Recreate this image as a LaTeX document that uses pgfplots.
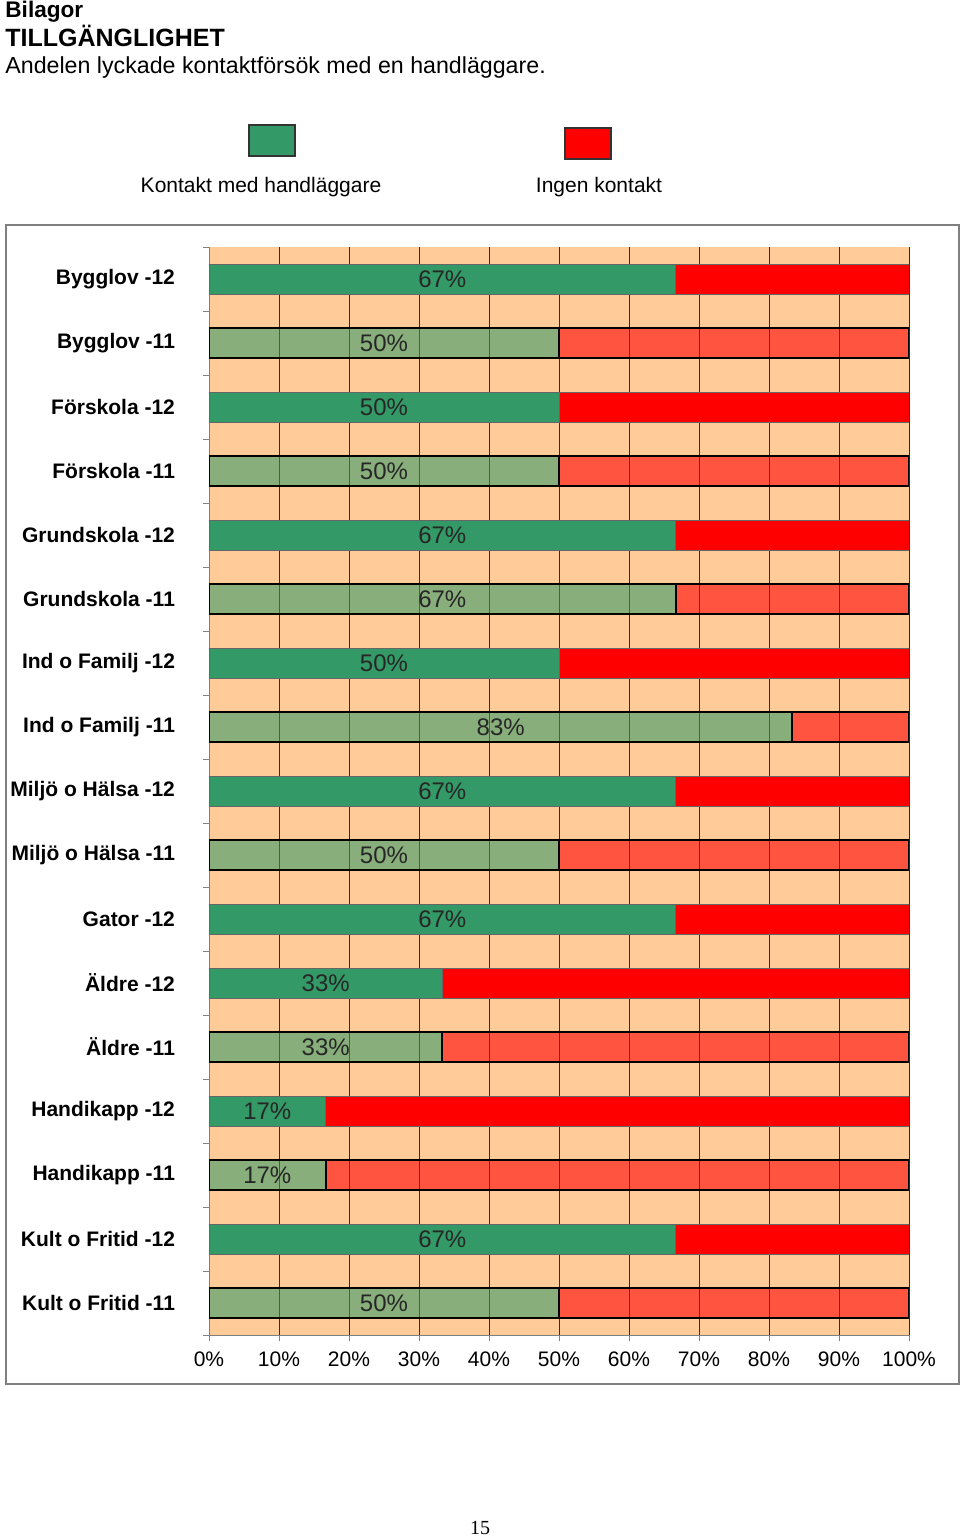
\documentclass[border=0pt]{standalone}
\usepackage{pgfplots}
\pgfplotsset{compat=1.18}
\usepackage{fontspec}
\setmainfont{Liberation Sans}
\newfontfamily\serifnum{Liberation Serif}
\definecolor{peach}{HTML}{FFCC99}
\definecolor{dkgreen}{HTML}{339966}
\definecolor{brred}{HTML}{FF0000}
\definecolor{gridc}{HTML}{3A2A1A}
\pgfplotsset{base/.style={at={(104.5pt,-667.5pt)}, anchor=south west, scale only axis,
  width=350pt, height=544pt, xmin=0, xmax=100, ymin=-0.5, ymax=16.5, y dir=reverse}}
\begin{document}
\begin{tikzpicture}[x=0.5pt,y=-0.5pt]
\path[use as bounding box, fill=white] (0,0) rectangle (960,1537);
% titles
\node[anchor=base west, inner sep=0pt, font=\bfseries\fontsize{11.3}{13}\selectfont] at (5,17) {Bilagor};
\node[anchor=base west, inner sep=0pt, font=\bfseries\fontsize{12.5}{14}\selectfont] at (5,46) {TILLGÄNGLIGHET};
\node[anchor=base west, inner sep=0pt, font=\fontsize{11.6}{13}\selectfont] at (5,73) {Andelen lyckade kontaktförsök med en handläggare.};
% legend
\filldraw[fill=dkgreen, draw=black!80, line width=0.8pt] (249,125) rectangle (295,156);
\filldraw[fill=brred, draw=black!80, line width=0.8pt] (565,128) rectangle (611,159);
\node[font=\fontsize{10.5}{12}\selectfont] at (261,187) {Kontakt med handläggare};
\node[font=\fontsize{10.5}{12}\selectfont] at (599,187) {Ingen kontakt};
% chart frame
\draw[black!50, line width=1pt] (6,225) rectangle (959,1384);
% page number
\node[font=\serifnum\fontsize{10}{12}\selectfont] at (480,1528) {15};

\begin{axis}[base, xbar stacked, bar width=15pt,
  axis background/.style={fill=peach},
  xmajorgrids, grid style={gridc, line width=0.5pt},
  axis lines*=left, axis line style={black!50, line width=0.5pt},
  xtick={0,10,...,100},
  xticklabels={0\%,10\%,20\%,30\%,40\%,50\%,60\%,70\%,80\%,90\%,100\%},
  xticklabel style={font=\fontsize{10.5}{12}\selectfont, yshift=-2pt},
  ytick={-0.5,0.5,...,16.5}, yticklabels={},
  tick align=outside, tick pos=left, major tick length=3pt,
  tick style={black!50, line width=0.5pt},
  extra y ticks={0,1,...,16},
  extra y tick labels={Bygglov -12, Bygglov -11, Förskola -12, Förskola -11, Grundskola -12, Grundskola -11, Ind o Familj -12, Ind o Familj -11, Miljö o Hälsa -12, Miljö o Hälsa -11, Gator -12, Äldre -12, Äldre -11, Handikapp -12, Handikapp -11, Kult o Fritid -12, Kult o Fritid -11},
  extra y tick style={major tick length=0pt, tick style={draw=none},
    yticklabel style={font=\bfseries\fontsize{10.5}{12}\selectfont, anchor=east, xshift=-13.5pt}},
]
\addplot[fill=dkgreen, draw=black!60, line width=0.3pt] coordinates {(66.67,0) (50,2) (66.67,4) (50,6) (66.67,8) (66.67,10) (33.33,11) (16.67,13) (66.67,15)};
\addplot[fill=brred, draw=black!60, line width=0.3pt] coordinates {(33.33,0) (50,2) (33.33,4) (50,6) (33.33,8) (33.33,10) (66.67,11) (83.33,13) (33.33,15)};
\end{axis}

\begin{axis}[base, xbar stacked, bar width=15pt, hide axis]
\addplot[fill=dkgreen, fill opacity=0.58, draw=black, line width=1pt] coordinates {(50,1) (50,3) (66.67,5) (83.33,7) (50,9) (33.33,12) (16.67,14) (50,16)};
\addplot[fill=brred, fill opacity=0.58, draw=black, line width=1pt] coordinates {(50,1) (50,3) (33.33,5) (16.67,7) (50,9) (66.67,12) (83.33,14) (50,16)};
\end{axis}

\begin{axis}[base, hide axis]
\addplot[draw=none, mark=none, nodes near coords, point meta=explicit symbolic,
  every node near coord/.append style={anchor=center, font=\fontsize{12}{14}\selectfont, text=black!85}]
  coordinates {(33.33,0)[67\%] (25,1)[50\%] (25,2)[50\%] (25,3)[50\%] (33.33,4)[67\%] (33.33,5)[67\%] (25,6)[50\%] (41.67,7)[83\%] (33.33,8)[67\%] (25,9)[50\%] (33.33,10)[67\%] (16.67,11)[33\%] (16.67,12)[33\%] (8.33,13)[17\%] (8.33,14)[17\%] (33.33,15)[67\%] (25,16)[50\%]};
\end{axis}
\end{tikzpicture}
\end{document}
